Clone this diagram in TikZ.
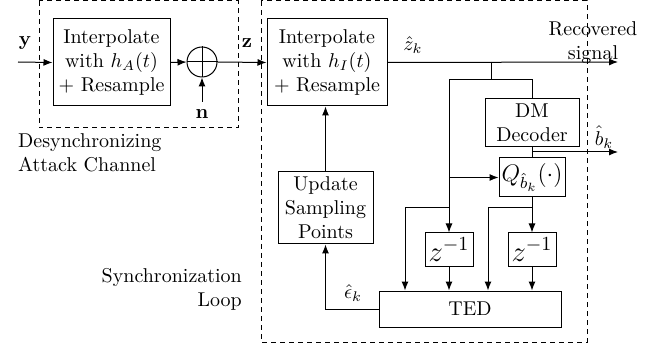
\documentclass[tikz,border=0pt]{standalone}
\usetikzlibrary{arrows.meta}
\begin{document}
\begin{tikzpicture}[x=0.5pt,y=-0.5pt, line width=0.5pt,
  blk/.style={draw, align=center, inner sep=1pt},
  lbl/.style={inner sep=0pt},
  arr/.style={-{Latex[length=4.5pt,width=3.5pt]}},
  dbox/.style={draw, dash pattern=on 2.5pt off 2pt}]
\useasboundingbox (0,0) rectangle (658,347);
% dashed frames
\draw[dbox] (39,1) rectangle (238,128);
\draw[dbox] (261,1) rectangle (587,342);
% attack channel
\node[blk, minimum width=58.5pt, minimum height=43.5pt] (A) at (111.5,62.5) {Interpolate\\with $h_A(t)$\\+ Resample};
\node[draw, circle, minimum size=15pt, inner sep=0pt] (S) at (202,62) {};
\draw (S.north) -- (S.south) (S.west) -- (S.east);
\coordinate (yin) at (18,62);
\coordinate (nin) at (202,102);
\draw[arr] (yin) -- (A.west);
\node[lbl] (ylab) at (25,43) {$\mathbf{y}$};
\draw[arr] (A.east) -- (S.west);
\draw[arr] (nin) -- (S.south);
\node[lbl] (nlab) at (202,114) {$\mathbf{n}$};
\node[align=left, anchor=west] (dlab) at (11,153) {Desynchronizing\\Attack Channel};
% receiver
\node[blk, minimum width=60pt, minimum height=43.5pt] (I) at (327,62.5) {Interpolate\\with $h_I(t)$\\+ Resample};
\draw[arr] (S.east) -- (I.west);
\node[lbl] (zlab) at (247,43) {$\mathbf{z}$};
\coordinate (out1) at (618,62);
\draw[arr] (I.east) -- (out1);
\node[lbl] (zhat) at (413,45) {$\hat{z}_k$};
\node[align=center] (rec) at (593,43) {Recovered\\signal};
\node[blk, minimum width=47pt, minimum height=24pt] (DM) at (532,123) {DM\\Decoder};
\node[blk, minimum width=33pt, minimum height=19.5pt, inner sep=0pt, font=\large] (Q) at (532,177.5) {$Q_{\hat{b}_k}(\cdot)$};
\node[blk, minimum width=24pt, minimum height=16.5pt, inner sep=0pt, font=\Large] (Z1) at (449,249.5) {$z^{-1}$};
\node[blk, minimum width=24pt, minimum height=16.5pt, inner sep=0pt, font=\Large] (Z2) at (532,249.5) {$z^{-1}$};
\node[blk, minimum width=91pt, minimum height=18pt] (TED) at (470,309) {TED};
\node[blk, minimum width=47.5pt, minimum height=36pt] (U) at (325.5,208) {Update\\Sampling\\Points};
\coordinate (j1) at (491,62);
\coordinate (j2) at (491,80);
\coordinate (j3) at (449,208);
\coordinate (j4) at (532,208);
\coordinate (j5) at (532,152);
\coordinate (c1) at (405,0);
\coordinate (c2) at (488,0);
\coordinate (out2) at (618,152);
\draw (j1) -- (j2) -| (DM.north);
\draw[arr] (j2) -| (Z1.north |- Q.west) -- (Q.west);
\draw[arr] (Z1.north |- Q.west) -- (Z1.north);
\draw[arr] (j3) -| (c1 |- TED.north);
\draw (DM.south) -- (Q.north);
\draw[arr] (j5) -- (out2);
\node[lbl] (bhat) at (604,137) {$\hat{b}_k$};
\draw[arr] (Q.south) -- (Z2.north);
\draw[arr] (j4) -| (c2 |- TED.north);
\draw[arr] (Z1.south) -- (Z1.south |- TED.north);
\draw[arr] (Z2.south) -- (Z2.south |- TED.north);
\draw[arr] (TED.west) -| (U.south);
\draw[arr] (U.north) -- (U.north |- I.south);
\node[lbl] (eps) at (353,293) {$\hat{\epsilon}_k$};
\node[align=right, anchor=east] (slab) at (249,289) {Synchronization\\Loop};
\end{tikzpicture}
\end{document}
